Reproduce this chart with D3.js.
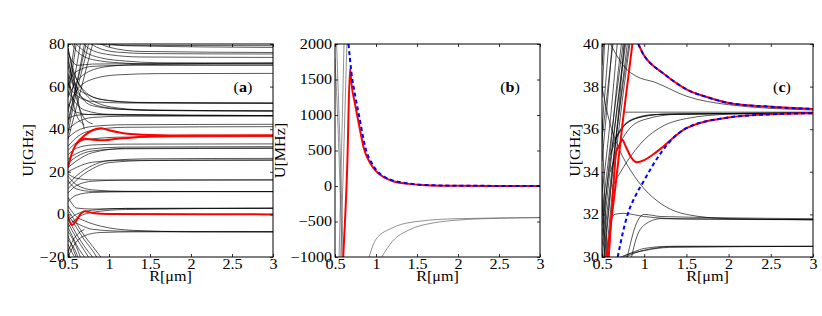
<!DOCTYPE html>
<html>
<head>
<meta charset="utf-8">
<script src="https://cdn.jsdelivr.net/npm/d3@7/dist/d3.min.js"></script>
<style>
  body { margin: 0; background: #fff; }
  text { font-family: "Liberation Serif", "Times New Roman", serif; }
</style>
</head>
<body>
<div id="fig"></div>
<script>
// tick values
var xTicks = [0.5, 1, 1.5, 2, 2.5, 3];
var aTicks = [-20, 0, 20, 40, 60, 80];
var bTicks = [-1000, -500, 0, 500, 1000, 1500, 2000];
var cTicks = [30, 32, 34, 36, 38, 40];

// panel (a): thin black levels, [R, U]
var aBlack = [
  [[0.55,80],[0.6,77],[0.7,74],[0.9,72],[1.2,71],[1.6,70.3],[3,70.1]],
  [[0.6,80],[0.7,76.5],[0.9,73.5],[1.2,72],[1.6,71.2],[3,71]],
  [[0.65,82],[0.75,78],[1.0,75],[1.4,73.9],[3,73.7]],
  [[0.7,82],[0.85,78.5],[1.1,76.2],[1.5,75.5],[3,75.3]],
  [[0.8,82],[1.0,78.5],[1.4,76.5],[3,76]],
  [[0.9,81],[1.2,79.2],[3,78.4]],
  [[0.6,82],[0.8,80.2],[1.2,79.4],[3,79.2]],
  [[0.5,60],[0.55,65],[0.65,68],[0.8,69.5],[1.2,70],[3,70.1]],
  [[0.5,55],[0.6,62],[0.75,67],[1,69.5],[1.5,70.6],[3,71]],
  [[0.5,76],[0.55,72],[0.62,70],[0.8,70.6],[3,71]],
  [[0.5,50],[0.6,58],[0.8,63.5],[1.1,65.5],[1.6,66.1],[3,66.2]],
  [[0.5,70],[0.55,63],[0.6,60],[0.75,56],[1,53.5],[1.5,52.4],[3,52.2]],
  [[0.5,78],[0.55,70],[0.6,64],[0.7,58],[0.9,54],[1.3,52.6],[3,52.3]],
  [[0.5,62],[0.55,58],[0.6,56],[0.8,53],[1.2,52.3],[3,52.2]],
  [[0.5,66],[0.6,58],[0.75,53],[1,50],[1.5,48.8],[3,48.5]],
  [[0.55,68],[0.65,60],[0.8,53.5],[1.1,50],[1.6,48.8],[3,48.6]],
  [[0.5,72],[0.58,62],[0.65,56],[0.8,51],[1.2,49.2],[3,48.6]],
  [[0.5,58],[0.6,52],[0.7,49],[1,47],[3,46.4]],
  [[0.5,52],[0.6,48],[0.8,46.8],[3,46.4]],
  [[0.5,40],[0.6,43],[0.8,45.5],[1.2,46.1],[3,46.2]],
  [[0.5,45],[0.6,46.5],[0.8,47],[1.2,46.6],[3,46.3]],
  [[0.5,36],[0.6,39],[0.8,41.3],[1.2,42.1],[3,42.3]],
  [[0.5,32],[0.6,36],[0.8,39.5],[1.2,40.9],[3,41.2]],
  [[0.5,30],[0.6,33.5],[0.8,35.5],[1.2,36.3],[3,36.5]],
  [[0.5,28],[0.6,31],[0.8,32.6],[1.2,33],[3,33.1]],
  [[0.5,26],[0.6,28.5],[0.8,30.8],[1.2,31.6],[3,31.8]],
  [[0.5,24],[0.6,27],[0.8,29.8],[1.2,30.8],[3,31]],
  [[0.5,22],[0.6,25],[0.8,29],[1.2,31],[3,31.2]],
  [[0.5,20],[0.6,22],[0.8,24.5],[1.2,25.4],[3,25.5]],
  [[0.5,14],[0.6,18],[0.8,23],[1,25.3],[1.5,26.1],[3,26.3]],
  [[0.5,12],[0.6,16],[0.8,21.5],[1,24.3],[1.5,25.3],[3,25.5]],
  [[0.5,10],[0.6,13.5],[0.8,15.6],[1.2,16.1],[3,16.2]],
  [[0.5,19],[0.6,17],[0.8,16.2],[1.2,16.1],[3,16.2]],
  [[0.5,6],[0.6,9],[0.8,10.3],[1.2,10.6],[3,10.7]],
  [[0.5,18],[0.6,14],[0.8,11.5],[1.2,10.8],[3,10.7]],
  [[0.5,16],[0.6,12],[0.8,10.8],[3,10.7]],
  [[0.5,-3],[0.6,0],[0.8,2],[1.2,2.8],[3,2.9]],
  [[0.5,-6],[0.6,-2],[0.8,1],[1.2,2.3],[3,2.9]],
  [[0.5,8],[0.55,5],[0.6,3],[0.8,2.5],[1.2,2.8],[3,2.9]],
  [[0.55,-3],[0.65,-5],[0.8,-7],[1.2,-7.9],[3,-8.1]],
  [[0.5,4],[0.6,-1],[0.7,-3],[0.9,-5.5],[1.3,-7.5],[2,-8.2],[3,-8.3]],
  [[0.5,-20],[0.55,-16],[0.6,-13],[0.7,-10],[0.9,-8.5],[1.3,-8.2],[3,-8.1]],
  [[0.5,-6],[0.55,-10],[0.6,-14],[0.7,-20]],
  [[0.5,-8],[0.6,-15],[0.65,-20]],
  [[0.5,-10],[0.55,-15],[0.6,-20]],
  [[0.5,-2],[0.6,-9],[0.7,-15],[0.8,-20]],
  [[0.5,0],[0.6,-6],[0.7,-12],[0.8,-17],[0.85,-20]],
  [[0.5,-4],[0.6,-11],[0.7,-17],[0.75,-20]],
  [[0.5,2],[0.6,-4],[0.7,-10],[0.8,-15],[0.9,-20]],
  [[0.5,-12],[0.6,-18],[0.62,-20]],
  [[0.5,-14],[0.55,-18],[0.58,-20]],
  [[0.5,-16],[0.52,-20]],
  [[0.5,-18],[0.55,-13],[0.6,-10],[0.7,-7]],
  [[0.5,42],[0.6,60],[0.7,80]],
  [[0.5,48],[0.57,62],[0.65,80]],
  [[0.5,55],[0.55,67],[0.6,80]],
  [[0.5,60],[0.55,72],[0.58,80]],
  [[0.5,44],[0.55,52],[0.6,60],[0.65,68],[0.72,80]],
  [[0.5,78],[0.55,68],[0.6,58],[0.65,48],[0.7,40]],
  [[0.5,74],[0.6,55],[0.7,45],[0.8,42.5]],
  [[0.5,65],[0.55,55],[0.6,47],[0.7,42]],
  [[0.5,38],[0.55,48],[0.62,60],[0.7,72],[0.75,80]],
  [[0.5,35],[0.6,50],[0.7,65],[0.8,80]]
];
var aRed = [
  [[0.5,22],[0.55,29],[0.6,33],[0.7,37],[0.8,39.5],[0.9,40.5],[1.0,39.5],[1.2,38],[1.5,37.3],[2,37],[3,37]],
  [[0.6,33],[0.7,35.5],[0.8,35],[0.9,34.8],[1.1,35.5],[1.5,36.6],[2,36.9],[3,37]],
  [[0.5,-1],[0.55,-5],[0.6,-3],[0.65,0],[0.7,1.5],[0.8,0.7],[1,0.2],[3,0]]
];

// panel (b): values in MHz
var bGray = [
  [[0.915,-1000],[1.0,-750],[1.2,-590],[1.5,-500],[2,-460],[3,-445]],
  [[1.07,-1000],[1.2,-780],[1.4,-620],[1.7,-520],[2,-480],[2.5,-455],[3,-445]],
  [[0.5,1800],[0.55,400],[0.585,-1000]],
  [[0.52,2000],[0.56,600],[0.6,-1000]],
  [[0.55,-1000],[0.58,500],[0.61,2000]],
  [[0.57,-1000],[0.61,600],[0.645,2000]]
];
var bRed = [
  [[0.6,-1000],[0.65,300],[0.683,1650],[0.7,1450],[0.75,1120],[0.8,820],[0.85,540],[0.93,320],[1.0,210],[1.1,120],[1.2,70],[1.4,30],[1.6,12],[2,3],[3,0]]
];
var bBlue = [
  [[0.665,2000],[0.7,1600],[0.75,1250],[0.8,950],[0.88,500],[0.95,320],[1.0,230],[1.1,130],[1.2,80],[1.4,35],[1.6,15],[2,4],[3,0]]
];

// panel (c): zoom on 30..40 GHz
var cBlack = [
  [[0.5,31],[0.6,35],[0.7,39],[0.73,40]],
  [[0.5,33],[0.6,36.5],[0.68,40]],
  [[0.5,34.5],[0.58,38],[0.62,40]],
  [[0.5,35.5],[0.6,39],[0.63,40]],
  [[0.5,30.5],[0.65,36],[0.78,40]],
  [[0.5,30],[0.6,33.5],[0.7,37],[0.76,40]],
  [[0.52,30],[0.65,35],[0.8,40]],
  [[0.53,30],[0.68,36],[0.82,40]],
  [[0.55,30],[0.7,36],[0.83,40]],
  [[0.5,31.5],[0.63,35.5],[0.77,40]],
  [[0.5,36],[0.55,38.5],[0.58,40]],
  [[0.5,37.5],[0.53,40]],
  [[0.5,39],[0.52,40]],
  [[0.5,32],[0.62,36],[0.75,40]],
  [[0.5,36.5],[0.53,33],[0.56,30]],
  [[0.5,34],[0.52,32],[0.54,30]],
  [[0.5,33],[0.53,30]],
  [[0.6,34.8],[0.7,35.8],[0.8,36.3],[1,36.6],[1.3,36.72],[3,36.75]],
  [[0.62,35.2],[0.72,36],[0.85,36.45],[1.1,36.68],[3,36.76]],
  [[0.65,35.5],[0.75,36.1],[0.9,36.5],[1.2,36.7],[3,36.76]],
  [[0.6,34],[0.7,35.2],[0.8,35.9],[1,36.45],[1.4,36.7],[3,36.76]],
  [[0.62,33.3],[0.8,34.5],[1,35.5],[1.2,36.1],[1.5,36.5],[2,36.7],[3,36.76]],
  [[0.75,36.8],[1.2,36.8],[3,36.8]],
  [[0.6,40],[0.7,39.3],[0.77,38.9],[0.9,38.5],[1.13,38.2],[1.5,37.55],[2,37.15],[3,36.9]],
  [[0.5,38],[0.55,37],[0.6,36.2],[0.7,35.1],[0.85,34],[1.0,33.2],[1.2,32.5],[1.5,32],[2,31.8],[3,31.75]],
  [[0.6,31.7],[0.65,32],[0.75,32.05],[1,31.9],[1.5,31.78],[3,31.75]],
  [[0.85,30],[0.9,30.8],[1,31.5],[1.2,31.8],[3,31.75]],
  [[0.8,30],[0.9,31.5],[1.0,32],[1.2,31.9],[3,31.8]],
  [[0.72,30],[0.85,30.2],[1,30.4],[1.3,30.5],[3,30.5]],
  [[0.78,30],[0.9,30.2],[1.1,30.4],[1.4,30.5],[3,30.5]],
  [[0.75,30],[0.8,30.1],[1.0,30.3],[1.3,30.45],[3,30.5]]
];
var cRed = [
  [[0.556,30],[0.65,33],[0.75,36.5],[0.86,40]],
  [[0.58,30],[0.63,33],[0.67,35],[0.7,35.2],[0.74,35.5],[0.78,35.2],[0.85,34.65],[0.91,34.45],[1.0,34.55],[1.1,34.8],[1.2,35.1],[1.3,35.45],[1.5,36.05],[2,36.55],[2.5,36.7],[3,36.75]],
  [[0.93,40],[1.0,39.45],[1.1,39.0],[1.2,38.7],[1.35,38.25],[1.5,37.87],[1.75,37.5],[2,37.23],[2.5,37.05],[3,36.95]]
];
var cBlue = [
  [[0.686,30],[0.75,31.2],[0.8,31.95],[0.9,32.9],[1.0,33.6],[1.1,34.3],[1.2,34.9],[1.3,35.4],[1.5,36.05],[2,36.55],[2.5,36.7],[3,36.75]],
  [[0.93,40],[1.0,39.45],[1.1,39.0],[1.2,38.7],[1.35,38.25],[1.5,37.87],[1.75,37.5],[2,37.23],[2.5,37.05],[3,36.95]]
];

(function () {
  var panels = [
    {left: 68, right: 273, yDomain: [-20, 80], yTicks: aTicks, yLabel: "U[GHz]", labelX: 28,
     tag: "a", tagX: 243, thin: aBlack, thinColor: "#000", red: aRed, blue: []},
    {left: 335, right: 540, yDomain: [-1000, 2000], yTicks: bTicks, yLabel: "U[MHz]", labelX: 280,
     tag: "b", tagX: 510, thin: bGray, thinColor: "#555", red: bRed, blue: bBlue},
    {left: 602, right: 813, yDomain: [30, 40], yTicks: cTicks, yLabel: "U[GHz]", labelX: 575,
     tag: "c", tagX: 782, thin: cBlack, thinColor: "#000", red: cRed, blue: cBlue}
  ];
  var yTop = 44, yBottom = 257;
  var stretch = "scale(1.15,1)";
  var fmt = d => d < 0 ? "\u2212" + Math.abs(d) : String(d);

  var svg = d3.select("#fig").append("svg")
    .attr("width", 822)
    .attr("height", 316)
    .attr("font-family", "Liberation Serif");

  panels.forEach(function (p, i) {
    var x = d3.scaleLinear().domain([0.5, 3]).range([p.left, p.right]);
    var y = d3.scaleLinear().domain(p.yDomain).range([yBottom, yTop]);
    var line = d3.line().x(d => x(d[0])).y(d => y(d[1])).curve(d3.curveMonotoneX);

    svg.append("clipPath").attr("id", "clip" + i)
      .append("rect")
      .attr("x", p.left).attr("y", yTop)
      .attr("width", p.right - p.left).attr("height", yBottom - yTop);

    var g = svg.append("g").attr("clip-path", "url(#clip" + i + ")");

    g.selectAll(".thin").data(p.thin).enter().append("path")
      .attr("d", line)
      .attr("fill", "none")
      .attr("stroke", p.thinColor)
      .attr("stroke-width", 0.65);

    g.selectAll(".red").data(p.red).enter().append("path")
      .attr("d", line)
      .attr("fill", "none")
      .attr("stroke", "#ff0000")
      .attr("stroke-width", 2);

    g.selectAll(".blue").data(p.blue).enter().append("path")
      .attr("d", line)
      .attr("fill", "none")
      .attr("stroke", "#0000ff")
      .attr("stroke-width", 2)
      .attr("stroke-dasharray", "4,3");

    // frame
    svg.append("rect")
      .attr("x", p.left).attr("y", yTop)
      .attr("width", p.right - p.left).attr("height", yBottom - yTop)
      .attr("fill", "none").attr("stroke", "#000").attr("stroke-width", 1);

    // inward ticks on all four sides
    var bx = svg.append("g").attr("transform", "translate(0," + yBottom + ")")
      .call(d3.axisBottom(x).tickValues(xTicks).tickFormat(d => String(d)).tickSizeInner(-3).tickSizeOuter(0));
    var tx = svg.append("g").attr("transform", "translate(0," + yTop + ")")
      .call(d3.axisTop(x).tickValues(xTicks).tickFormat("").tickSizeInner(-3).tickSizeOuter(0));
    var ly = svg.append("g").attr("transform", "translate(" + p.left + ",0)")
      .call(d3.axisLeft(y).tickValues(p.yTicks).tickFormat(fmt).tickSizeInner(-3).tickSizeOuter(0));
    var ry = svg.append("g").attr("transform", "translate(" + p.right + ",0)")
      .call(d3.axisRight(y).tickValues(p.yTicks).tickFormat("").tickSizeInner(-3).tickSizeOuter(0));

    [bx, tx, ly, ry].forEach(function (a) {
      a.attr("font-family", "Liberation Serif").attr("font-size", 14);
      a.select(".domain").remove();
      a.selectAll("line").attr("stroke", "#000").attr("stroke-width", 0.8);
      a.selectAll("text")
        .attr("fill", "#000")
        .attr("transform", stretch);
    });
    bx.selectAll("text").attr("dy", "0.71em").attr("y", 2);
    ly.selectAll("text").attr("x", -3 / 1.15);

    // axis titles
    svg.append("text")
      .attr("transform", "translate(" + p.labelX + "," + ((yTop + yBottom) / 2) + ") rotate(-90) " + stretch)
      .attr("text-anchor", "middle")
      .attr("dy", "0.35em")
      .attr("font-size", 14)
      .text(p.yLabel);

    svg.append("text")
      .attr("transform", "translate(" + ((p.left + p.right) / 2) + ",281) " + stretch)
      .attr("text-anchor", "middle")
      .attr("font-size", 14)
      .text("R[\u03bcm]");

    var t = svg.append("text")
      .attr("transform", "translate(" + p.tagX + ",92) " + stretch)
      .attr("text-anchor", "middle")
      .attr("font-size", 14);
    t.append("tspan").text("(");
    t.append("tspan").attr("font-weight", "bold").text(p.tag);
    t.append("tspan").text(")");
  });
})();
</script>
</body>
</html>
